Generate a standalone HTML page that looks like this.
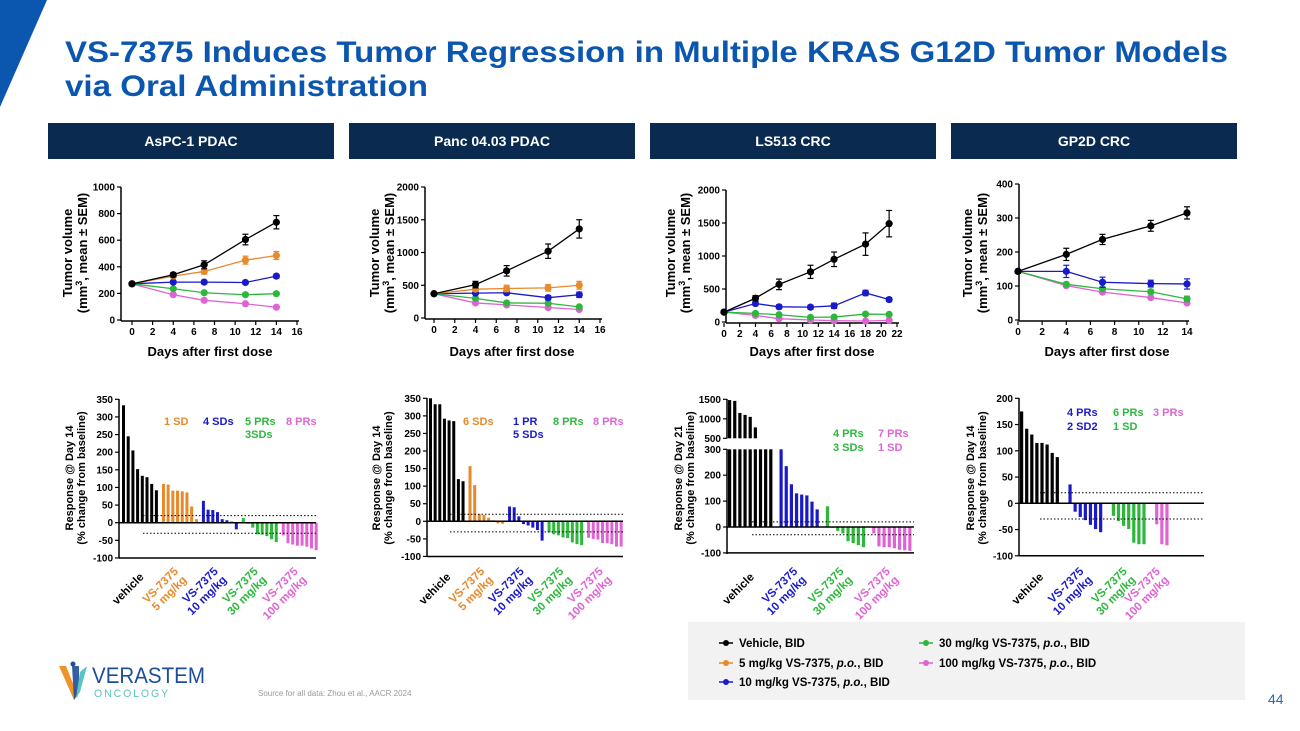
<!DOCTYPE html>
<html><head><meta charset="utf-8">
<style>
html,body{margin:0;padding:0;background:#fff;}
svg{display:block;font-family:"Liberation Sans",Arial,sans-serif;}
</style></head>
<body>
<svg id="slide" width="1300" height="731" viewBox="0 0 1300 731" xmlns="http://www.w3.org/2000/svg">
<polygon points="0,0 47,0 0,107" fill="#0b57b0"/>
<text x="65" y="62" font-size="30" font-weight="bold" fill="#0b57b0" textLength="1163" lengthAdjust="spacingAndGlyphs">VS-7375 Induces Tumor Regression in Multiple KRAS G12D Tumor Models</text>
<text x="65" y="96" font-size="30" font-weight="bold" fill="#0b57b0" textLength="363" lengthAdjust="spacingAndGlyphs">via Oral Administration</text>
<g id="panels"></g>
<g id="charts"></g>
<rect x="688" y="622" width="557" height="78" fill="#f2f2f2"/>
<g id="legend"></g>
<g>
<polygon points="59,666 66,666 78,696 74,700" fill="#f0922b"/>
<polygon points="72,666 79,666 79,690 74,700" fill="#1e4e9a" opacity="0.9"/>
<polygon points="80,672 87,666 80,692 76,698" fill="#5bc4c0"/>
<circle cx="73" cy="664" r="2.5" fill="#1e4e9a"/>
<text x="92" y="683" font-size="22" fill="#1e4e9a" textLength="113" lengthAdjust="spacingAndGlyphs">VERASTEM</text>
<text x="94" y="697" font-size="11" fill="#5bc4c0" textLength="76" lengthAdjust="spacingAndGlyphs" letter-spacing="2">ONCOLOGY</text>
</g>
<text x="258" y="696" font-size="8" fill="#999">Source for all data: Zhou et al., AACR 2024</text>
<text x="1268" y="704" font-size="14" fill="#2a6ab8">44</text>
</svg>
<script>
// ---------- line chart data ----------
const days5 = [0,4,7,11,14];
const days7 = [0,4,7,11,14,18,21];
const c1Vehicle = [272,340,415,605,735];
const c1Dose5 = [272,330,365,450,485];
const c1Dose10 = [272,285,285,282,330];
const c1Dose30 = [272,235,205,190,198];
const c1Dose100 = [272,190,148,122,96];
const c1VehErr = [10,15,30,40,50];
const c2Vehicle = [370,510,720,1020,1360];
const c2Dose5 = [370,440,450,460,500];
const c2Dose10 = [370,380,385,310,355];
const c2Dose30 = [370,300,230,225,170];
const c2Dose100 = [370,230,200,160,130];
const c2VehErr = [20,50,80,110,140];
const c3Vehicle = [150,360,570,760,950,1180,1490];
const c3Dose10 = [150,280,230,225,245,440,340];
const c3Dose30 = [150,130,110,70,75,120,115];
const c3Dose100 = [150,100,50,30,20,15,25];
const c3VehErr = [15,40,80,100,110,170,200];
const c4Vehicle = [143,193,237,277,315];
const c4Dose10 = [143,143,111,107,106];
const c4Dose30 = [143,105,92,83,62];
const c4Dose100 = [143,101,82,66,50];
const c4VehErr = [5,18,15,16,18];
const c1YTicks = [0,200,400,600,800,1000];
const c2YTicks = [0,500,1000,1500,2000];
const c3YTicks = [0,500,1000,1500,2000];
const c4YTicks = [0,100,200,300,400];
const xTicks16 = [0,2,4,6,8,10,12,14,16];
const xTicks22 = [0,2,4,6,8,10,12,14,16,18,20,22];
const xTicks14 = [0,2,4,6,8,10,12,14];
// ---------- waterfall data ----------
const w1Vehicle = [333,245,205,152,133,129,110,92];
const w1Dose5 = [110,108,91,91,89,86,46,10];
const w1Dose10 = [62,37,36,30,10,7,3,-19];
const w1Dose30 = [13,-3,-14,-33,-34,-38,-47,-55];
const w1Dose100 = [-36,-58,-62,-65,-65,-68,-73,-78];
const w2Vehicle = [350,333,333,292,287,285,120,114];
const w2Dose5 = [157,103,20,18,10,3,-6,-7];
const w2Dose10 = [42,40,14,-8,-12,-18,-25,-55];
const w2Dose30 = [-32,-37,-40,-46,-48,-60,-65,-68];
const w2Dose100 = [-47,-50,-52,-62,-62,-65,-72,-72];
const w3Vehicle = [1480,1460,1150,1100,1050,780,450,400,350];
const w3Dose10 = [310,235,165,130,125,122,98,68];
const w3Dose30 = [80,-3,-15,-25,-55,-62,-70,-78];
const w3Dose100 = [-25,-75,-78,-78,-82,-88,-90,-92];
const w4Vehicle = [175,142,131,115,115,112,96,88];
const w4Dose10 = [36,-16,-26,-32,-41,-49,-55];
const w4Dose30 = [-24,-34,-43,-49,-75,-78,-78];
const w4Dose100 = [-40,-78,-80];
const wTicks350 = [350,300,250,200,150,100,50,0,-50,-100];
const wTicks3Low = [300,200,100,0,-100];
const wTicks3High = [1500,1000,500];
const wTicks200 = [200,150,100,50,0,-50,-100];

const NS='http://www.w3.org/2000/svg';
const C={veh:'#000000',d5:'#e8892b',d10:'#1a1ac8',d30:'#2db83d',d100:'#e063d4'};
function mk(parent,tag,attrs,text){const e=document.createElementNS(NS,tag);for(const k in attrs)e.setAttribute(k,attrs[k]);if(text!==undefined)e.textContent=text;parent.appendChild(e);return e;}
const charts=document.getElementById('charts');
const panels=document.getElementById('panels');

const headers=[['AsPC-1 PDAC',48],['Panc 04.03 PDAC',349],['LS513 CRC',650],['GP2D CRC',951]];
headers.forEach(h=>{
  const g=mk(panels,'g',{});
  
  
  mk(g,'rect',{x:h[1],y:123,width:286,height:36,fill:'#0b2a4f'});
  mk(g,'text',{x:h[1]+143,y:146,'font-size':14,'font-weight':'bold',fill:'#fff','text-anchor':'middle'},h[0]);
});

function lineChart(cfg){
  const g=mk(charts,'g',{});
  
  
  const xs=v=>cfg.x0+(v-cfg.xmin)/(cfg.xmax-cfg.xmin)*(cfg.x1-cfg.x0);
  const ys=v=>cfg.y0-(v/cfg.ymax)*(cfg.y0-cfg.y1);
  const ya=mk(g,'line',{x1:cfg.ax,y1:cfg.y1,x2:cfg.ax,y2:cfg.y0+1,stroke:'#000','stroke-width':1.5});
  
  
  cfg.yticks.forEach(t=>{
    mk(g,'line',{x1:cfg.ax-4,y1:ys(t),x2:cfg.ax,y2:ys(t),stroke:'#000','stroke-width':1.2});
    const tl=mk(g,'text',{x:cfg.ax-6,y:ys(t)+3.5,'font-size':10,'font-weight':'bold','text-anchor':'end'},t);
    
    
  });
  const xa=mk(g,'line',{x1:cfg.ax,y1:cfg.y0+1,x2:xs(cfg.xticks[cfg.xticks.length-1])+2,y2:cfg.y0+1,stroke:'#000','stroke-width':1.5});
  
  
  cfg.xticks.forEach(t=>{
    mk(g,'line',{x1:xs(t),y1:cfg.y0+1,x2:xs(t),y2:cfg.y0+5,stroke:'#000','stroke-width':1.2});
    const tl=mk(g,'text',{x:xs(t),y:cfg.y0+15,'font-size':10,'font-weight':'bold','text-anchor':'middle'},t);
    
    
  });
  const xt=mk(g,'text',{x:cfg.xtx,y:356,'font-size':13,'font-weight':'bold','text-anchor':'middle'},'Days after first dose');
  
  
  const yt=mk(g,'text',{transform:`translate(${cfg.ytx},253) rotate(-90)`,'font-size':13,'font-weight':'bold','text-anchor':'middle'});
  
  
  mk(yt,'tspan',{x:0,y:0},'Tumor volume');
  mk(yt,'tspan',{x:0,y:15},'(mm');
  mk(yt,'tspan',{dy:-5,'font-size':9},'3');
  mk(yt,'tspan',{dy:5},', mean ± SEM)');
  cfg.series.forEach(s=>{
    const sg=mk(g,'g',{});
    
    
    const pts=s.vals.map((v,i)=>xs(cfg.days[i])+','+ys(v)).join(' ');
    mk(sg,'polyline',{points:pts,fill:'none',stroke:s.color,'stroke-width':1.3});
    s.vals.forEach((v,i)=>{
      const e=s.err?s.err[i]:0;
      if(e>0){
        const cx=xs(cfg.days[i]);
        mk(sg,'line',{x1:cx,y1:ys(v+e),x2:cx,y2:ys(v-e),stroke:s.color,'stroke-width':1.2});
        mk(sg,'line',{x1:cx-3,y1:ys(v+e),x2:cx+3,y2:ys(v+e),stroke:s.color,'stroke-width':1.2});
        mk(sg,'line',{x1:cx-3,y1:ys(v-e),x2:cx+3,y2:ys(v-e),stroke:s.color,'stroke-width':1.2});
      }
      const p=mk(sg,'circle',{cx:xs(cfg.days[i]),cy:ys(v),r:3.6,fill:s.color});
      
      
    });
  });
}

lineChart({days:days5,ax:121,x0:132,x1:297,xmin:0,xmax:16,y0:320,y1:187,ymax:1000,yticks:c1YTicks,xticks:xTicks16,xtx:210,ytx:72,
  series:[{name:'dose100',vals:c1Dose100,color:C.d100},{name:'dose30',vals:c1Dose30,color:C.d30},{name:'dose10',vals:c1Dose10,color:C.d10,err:[0,8,12,12,15]},{name:'dose5',vals:c1Dose5,color:C.d5,err:[0,10,20,30,30]},{name:'vehicle',vals:c1Vehicle,color:C.veh,err:c1VehErr}]});
lineChart({days:days5,ax:425,x0:434,x1:600,xmin:0,xmax:16,y0:318,y1:187,ymax:2000,yticks:c2YTicks,xticks:xTicks16,xtx:512,ytx:379,
  series:[{name:'dose100',vals:c2Dose100,color:C.d100},{name:'dose30',vals:c2Dose30,color:C.d30},{name:'dose10',vals:c2Dose10,color:C.d10,err:[0,20,25,30,40]},{name:'dose5',vals:c2Dose5,color:C.d5,err:[0,30,50,50,60]},{name:'vehicle',vals:c2Vehicle,color:C.veh,err:c2VehErr}]});
lineChart({days:days7,ax:726,x0:724,x1:897,xmin:0,xmax:22,y0:322,y1:190,ymax:2000,yticks:c3YTicks,xticks:xTicks22,xtx:812,ytx:675,
  series:[{name:'dose100',vals:c3Dose100,color:C.d100},{name:'dose30',vals:c3Dose30,color:C.d30},{name:'dose10',vals:c3Dose10,color:C.d10,err:[0,30,30,30,40,40,30]},{name:'vehicle',vals:c3Vehicle,color:C.veh,err:c3VehErr}]});
lineChart({days:days5,ax:1019,x0:1018,x1:1187,xmin:0,xmax:14,y0:320,y1:184,ymax:400,yticks:c4YTicks,xticks:xTicks14,xtx:1107,ytx:972,
  series:[{name:'dose100',vals:c4Dose100,color:C.d100},{name:'dose30',vals:c4Dose30,color:C.d30,err:[0,5,6,6,8]},{name:'dose10',vals:c4Dose10,color:C.d10,err:[0,18,15,10,15]},{name:'vehicle',vals:c4Vehicle,color:C.veh,err:c4VehErr}]});

function waterfall(cfg){
  const g=mk(charts,'g',{});
  
  
  const ys=cfg.ys;
  cfg.axisSegs.forEach(sg=>{
    const a=mk(g,'line',{x1:cfg.ax,y1:sg[0],x2:cfg.ax,y2:sg[1],stroke:'#000','stroke-width':1.5});
    
    
  });
  cfg.ticks.forEach(t=>{
    const y=ys(t);
    mk(g,'line',{x1:cfg.ax-4,y1:y,x2:cfg.ax,y2:y,stroke:'#000','stroke-width':1.2});
    const tl=mk(g,'text',{x:cfg.ax-6,y:y+3.5,'font-size':10,'font-weight':'bold','text-anchor':'end'},t);
    
    
  });
  const xa=mk(g,'line',{x1:cfg.ax,y1:ys(-100),x2:cfg.xr,y2:ys(-100),stroke:'#000','stroke-width':1.5});
  
  
  let slot=0;
  cfg.groups.forEach((grp,gi)=>{
    const startSlot=slot;
    grp.vals.forEach(v=>{
      const x=cfg.bx+slot*cfg.sw;
      const b=mk(g,'rect',{});
      
      
      let top,bot;
      if(cfg.brk && v>cfg.brk.lowMax){
        top=ys(cfg.brk.lowMax);bot=ys(0);
        b.setAttribute('x',x);b.setAttribute('y',top);b.setAttribute('width',cfg.bw);b.setAttribute('height',bot-top);b.setAttribute('fill',grp.color);
        if(v>=cfg.brk.highMin){
          const b2=mk(g,'rect',{x:x,y:ys(v),width:cfg.bw,height:ys(cfg.brk.highMin)-ys(v),fill:grp.color});
          
          
        }
      }else{
        top=Math.min(ys(v),ys(0));bot=Math.max(ys(v),ys(0));
        b.setAttribute('x',x);b.setAttribute('y',top);b.setAttribute('width',cfg.bw);b.setAttribute('height',Math.max(bot-top,0.8));b.setAttribute('fill',grp.color);
      }
      slot++;
    });
    const center=cfg.bx+(startSlot+grp.vals.length/2)*cfg.sw;
    const lg=mk(g,'g',{transform:`translate(${center-2},${cfg.ly}) rotate(-45)`,'font-size':11.5,'font-weight':'bold',fill:grp.color,'text-anchor':'end'});
    
    
    if(grp.label2){mk(lg,'text',{x:0,y:0},grp.label);mk(lg,'text',{x:0,y:12},grp.label2);}
    else mk(lg,'text',{x:0,y:8},grp.label);
    slot+=cfg.gap;
  });
  const z=mk(g,'line',{x1:cfg.ax,y1:ys(0),x2:cfg.xr,y2:ys(0),stroke:'#000','stroke-width':1.5});
  
  
  [20,-30].forEach(t=>{
    const d=mk(g,'line',{x1:cfg.dx,y1:ys(t),x2:cfg.xr,y2:ys(t),stroke:'#000','stroke-width':1,'stroke-dasharray':'1.5,2'});
    
    
  });
  const yt=mk(g,'text',{transform:`translate(${cfg.ytx},${cfg.yty}) rotate(-90)`,'font-size':11,'font-weight':'bold','text-anchor':'middle'});
  
  
  mk(yt,'tspan',{x:0,y:0},cfg.ytitle);
  mk(yt,'tspan',{x:0,y:12},'(% change from baseline)');
  cfg.notes.forEach(n=>{
    const t=mk(g,'text',{x:n[0],y:n[1],'font-size':11,'font-weight':'bold',fill:n[3]},n[2]);
    
    
  });
}
const lin=(v0,p0,v1,p1)=>v=>p0+(v-v0)*(p1-p0)/(v1-v0);

waterfall({ax:119,xr:316,dx:143,bx:122,sw:4.7,bw:3,gap:0.5,ly:572,ytx:73,yty:478,ytitle:'Response @ Day 14',
  ys:lin(0,522.7,350,399.3),ticks:wTicks350,axisSegs:[[399,558]],
  groups:[{name:'vehicle',vals:w1Vehicle,color:C.veh,label:'vehicle'},{name:'dose5',vals:w1Dose5,color:C.d5,label:'VS-7375',label2:'5 mg/kg'},{name:'dose10',vals:w1Dose10,color:C.d10,label:'VS-7375',label2:'10 mg/kg'},{name:'dose30',vals:w1Dose30,color:C.d30,label:'VS-7375',label2:'30 mg/kg'},{name:'dose100',vals:w1Dose100,color:C.d100,label:'VS-7375',label2:'100 mg/kg'}],
  notes:[[164,425,'1 SD',C.d5],[203,425,'4 SDs',C.d10],[245,425,'5 PRs',C.d30],[245,438,'3SDs',C.d30],[286,425,'8 PRs',C.d100]]});
waterfall({ax:427,xr:623,dx:450,bx:429,sw:4.65,bw:3,gap:0.5,ly:572,ytx:380,yty:478,ytitle:'Response @ Day 14',
  ys:lin(0,521.3,350,398.3),ticks:wTicks350,axisSegs:[[398,557]],
  groups:[{name:'vehicle',vals:w2Vehicle,color:C.veh,label:'vehicle'},{name:'dose5',vals:w2Dose5,color:C.d5,label:'VS-7375',label2:'5 mg/kg'},{name:'dose10',vals:w2Dose10,color:C.d10,label:'VS-7375',label2:'10 mg/kg'},{name:'dose30',vals:w2Dose30,color:C.d30,label:'VS-7375',label2:'30 mg/kg'},{name:'dose100',vals:w2Dose100,color:C.d100,label:'VS-7375',label2:'100 mg/kg'}],
  notes:[[463,425,'6 SDs',C.d5],[513,425,'1 PR',C.d10],[513,438,'5 SDs',C.d10],[553,425,'8 PRs',C.d30],[593,425,'8 PRs',C.d100]]});
const w3low=lin(0,527,300,449.3), w3high=lin(500,438.3,1500,399.3);
waterfall({ax:727,xr:914,dx:752,bx:728,sw:5.15,bw:3.2,gap:1,ly:572,ytx:682,yty:478,ytitle:'Response @ Day 21',
  ys:v=>v>300?w3high(v):w3low(v),ticks:wTicks3Low.concat(wTicks3High),axisSegs:[[399,438.5],[449,554]],brk:{lowMax:300,highMin:500},
  groups:[{name:'vehicle',vals:w3Vehicle,color:C.veh,label:'vehicle'},{name:'dose10',vals:w3Dose10,color:C.d10,label:'VS-7375',label2:'10 mg/kg'},{name:'dose30',vals:w3Dose30,color:C.d30,label:'VS-7375',label2:'30 mg/kg'},{name:'dose100',vals:w3Dose100,color:C.d100,label:'VS-7375',label2:'100 mg/kg'}],
  notes:[[833,437,'4 PRs',C.d30],[833,451,'3 SDs',C.d30],[878,437,'7 PRs',C.d100],[878,451,'1 SD',C.d100]]});
waterfall({ax:1019,xr:1204,dx:1040,bx:1020,sw:5.1,bw:3.2,gap:1.5,ly:572,ytx:974,yty:478,ytitle:'Response @ Day 14',
  ys:lin(0,503.3,200,398.3),ticks:wTicks200,axisSegs:[[398,556]],
  groups:[{name:'vehicle',vals:w4Vehicle,color:C.veh,label:'vehicle'},{name:'dose10',vals:w4Dose10,color:C.d10,label:'VS-7375',label2:'10 mg/kg'},{name:'dose30',vals:w4Dose30,color:C.d30,label:'VS-7375',label2:'30 mg/kg'},{name:'dose100',vals:w4Dose100,color:C.d100,label:'VS-7375',label2:'100 mg/kg'}],
  notes:[[1067,416,'4 PRs',C.d10],[1067,430,'2 SD2',C.d10],[1113,416,'6 PRs',C.d30],[1113,430,'1 SD',C.d30],[1153,416,'3 PRs',C.d100]]});

const leg=document.getElementById('legend');
const legItems=[[725,643,C.veh,'Vehicle, BID',''],[725,663,C.d5,'5 mg/kg VS-7375, ','p.o.'],[725,682,C.d10,'10 mg/kg VS-7375, ','p.o.'],[925,643,C.d30,'30 mg/kg VS-7375, ','p.o.'],[925,663,C.d100,'100 mg/kg VS-7375, ','p.o.']];
legItems.forEach(it=>{
  const g=mk(leg,'g',{});
  
  
  mk(g,'line',{x1:it[0]-6,y1:it[1],x2:it[0]+8,y2:it[1],stroke:it[2],'stroke-width':1.5});
  mk(g,'circle',{cx:it[0]+1,cy:it[1],r:3,fill:it[2]});
  const t=mk(g,'text',{x:it[0]+14,y:it[1]+4,'font-size':11.5,'font-weight':'bold'});
  mk(t,'tspan',{},it[3]);
  if(it[4]){mk(t,'tspan',{'font-style':'italic'},it[4]);mk(t,'tspan',{},', BID');}
});
</script>
</body></html>
